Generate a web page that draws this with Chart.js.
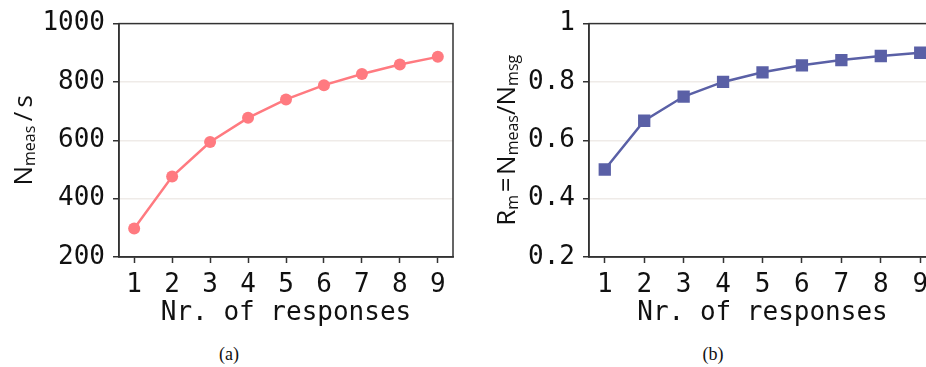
<!DOCTYPE html>
<html>
<head>
<meta charset="utf-8">
<script src="https://cdn.jsdelivr.net/npm/chart.js@4.4.0/dist/chart.umd.min.js"></script>
<style>
  html, body { margin: 0; padding: 0; background: #fff; }
  body { width: 926px; height: 367px; overflow: hidden; position: relative; }
  .panel { position: absolute; top: 0; height: 330px; }
  .caption { position: absolute; top: 344px; font: 18px "Liberation Serif", serif; color: #111; transform: translateX(-50%); }
</style>
</head>
<body>
<div class="panel" style="left:0;width:470px"><canvas id="rateChart"></canvas></div>
<div class="panel" style="left:470px;width:480px"><canvas id="ratioChart"></canvas></div>
<div class="caption" style="left:229px">(a)</div>
<div class="caption" style="left:713px">(b)</div>
<script>
// data
const responses = [1, 2, 3, 4, 5, 6, 7, 8, 9];
const measRate = [298, 476, 594, 677, 740, 789, 827, 860, 886];
const ratioRm = [0.5, 0.667, 0.75, 0.8, 0.833, 0.857, 0.875, 0.889, 0.9];
const rateTicks = [200, 400, 600, 800, 1000];
const ratioTicks = [0.2, 0.4, 0.6, 0.8, 1];
const ratioTickLabels = ["0.2", "0.4", "0.6", "0.8", "1"];

const monoFont = "'DejaVu Sans Mono', monospace";
const sansFont = "'Open Sans', sans-serif";
const ink = "#111";
const axisColor = "#333";
const gridColor = "#efebe8";

// draws the box, the x title and the y title with subscripts
const axisTitles = {
  id: "axisTitles",
  afterDraw(chart, args, opts) {
    const ctx = chart.ctx;
    const area = chart.chartArea;
    ctx.save();
    ctx.strokeStyle = axisColor;
    ctx.lineWidth = 1.5;
    ctx.strokeRect(area.left, area.top, area.right - area.left, area.bottom - area.top);

    ctx.fillStyle = ink;
    ctx.font = "26px " + monoFont;
    ctx.textAlign = "center";
    ctx.textBaseline = "middle";
    ctx.fillText(opts.xTitle, (area.left + area.right) / 2, opts.xTitleY);

    // y title, rotated
    const parts = opts.yTitle;
    let total = 0;
    parts.forEach((p) => {
      ctx.font = (p.sub ? "16px " : "26px ") + sansFont;
      p.w = ctx.measureText(p.t).width;
      total += p.w;
    });
    ctx.translate(opts.yTitleX, (area.top + area.bottom) / 2);
    ctx.rotate(-Math.PI / 2);
    ctx.textAlign = "left";
    ctx.textBaseline = "alphabetic";
    let x = -total / 2;
    parts.forEach((p) => {
      ctx.font = (p.sub ? "16px " : "26px ") + sansFont;
      ctx.fillText(p.t, x, p.sub ? 3 : 0);
      x += p.w;
    });
    ctx.restore();
  },
};

function makeChart(id, values, yTicks, yLabels, yMin, yMax, color, style, radius, titles) {
  const ctx = document.getElementById(id).getContext("2d");
  return new Chart(ctx, {
    type: "line",
    data: {
      datasets: [
        {
          data: responses.map((r, i) => ({ x: r, y: values[i] })),
          borderColor: color,
          backgroundColor: color,
          borderWidth: 2.5,
          pointStyle: style,
          pointRadius: radius,
          pointHoverRadius: radius,
          pointBorderWidth: 0,
        },
      ],
    },
    options: {
      responsive: true,
      maintainAspectRatio: false,
      animation: false,
      events: [],
      layout: { padding: { top: titles.top, right: titles.right, left: 0, bottom: 0 } },
      plugins: { legend: { display: false }, tooltip: { enabled: false }, axisTitles: titles },
      scales: {
        x: {
          type: "linear",
          min: 0.6,
          max: 9.4,
          afterBuildTicks: (s) => {
            s.ticks = responses.map((v) => ({ value: v }));
          },
          afterFit: (s) => {
            s.height = 73;
          },
          grid: { drawOnChartArea: false, tickLength: 6, tickColor: axisColor, tickWidth: 1.5 },
          border: { color: axisColor, width: 1.5 },
          ticks: { font: { family: monoFont, size: 26 }, color: ink, padding: 7, maxRotation: 0 },
        },
        y: {
          min: yMin,
          max: yMax,
          afterBuildTicks: (s) => {
            s.ticks = yTicks.map((v) => ({ value: v }));
          },
          afterFit: (s) => {
            s.width = 119;
          },
          grid: {
            color: (c) => (c.index === 0 || c.index === yTicks.length - 1 ? "rgba(0,0,0,0)" : gridColor),
            lineWidth: 1.5,
            tickLength: 6,
            tickColor: axisColor,
            tickWidth: 1.5,
          },
          border: { color: axisColor, width: 1.5 },
          ticks: {
            font: { family: monoFont, size: 26 },
            color: ink,
            padding: 8,
            callback: (v, i) => yLabels[i],
          },
        },
      },
    },
    plugins: [axisTitles],
  });
}

makeChart("rateChart", measRate, rateTicks, rateTicks.map(String), 200, 1000, "#ff7a80", "circle", 6, {
  top: 18,
  right: 17,
  xTitle: "Nr. of responses",
  xTitleY: 313,
  yTitleX: 32,
  yTitle: [{ t: "N" }, { t: "meas", sub: true }, { t: "\u2009/\u2009s" }],
});

makeChart("ratioChart", ratioRm, ratioTicks, ratioTickLabels, 0.2, 1, "#5a60a6", "rect", 8.7, {
  top: 16,
  right: 14,
  xTitle: "Nr. of responses",
  xTitleY: 313,
  yTitleX: 45,
  yTitle: [
    { t: "R" },
    { t: "m", sub: true },
    { t: "\u200a=\u200aN" },
    { t: "meas", sub: true },
    { t: "/N" },
    { t: "msg", sub: true },
  ],
});
</script>
</body>
</html>
